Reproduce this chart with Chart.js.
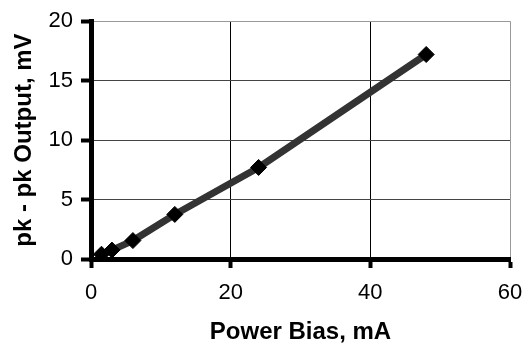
<!DOCTYPE html>
<html>
<head>
<meta charset="utf-8">
<script src="https://cdn.jsdelivr.net/npm/chart.js@4.4.0/dist/chart.umd.min.js"></script>
<style>
  html, body { margin: 0; padding: 0; background: #fff; }
  #wrap { width: 526px; height: 347px; }
</style>
</head>
<body>
<div id="wrap"><canvas id="biasChart" width="526" height="347"></canvas></div>
<script>
// values
const biasMA = [1.5, 3, 6, 12, 24, 48];
const outputMV = [0.4, 0.75, 1.55, 3.75, 7.7, 17.2];
const xTicks = [0, 20, 40, 60];
const yTicks = [0, 5, 10, 15, 20];

const points = biasMA.map((x, i) => ({ x: x, y: outputMV[i] }));
const tickFont = { family: 'Liberation Sans, Arial, sans-serif', size: 22 };
const titleFont = { family: 'Liberation Sans, Arial, sans-serif', size: 24, weight: 'bold' };

const ctx = document.getElementById('biasChart').getContext('2d');
new Chart(ctx, {
    type: 'scatter',
    data: {
        datasets: [{
            label: 'Output',
            data: points,
            showLine: true,
            borderColor: '#333333',
            borderWidth: 7,
            pointStyle: 'rectRot',
            pointRadius: 8,
            pointBackgroundColor: '#000',
            pointBorderColor: '#000',
            pointBorderWidth: 1
        }]
    },
    options: {
        responsive: false,
        animation: false,
        layout: { padding: { top: 20, right: 16, left: 0, bottom: 0 } },
        plugins: { legend: { display: false }, tooltip: { enabled: false } },
        scales: {
            x: {
                type: 'linear',
                min: 0,
                max: 60,
                afterBuildTicks: axis => { axis.ticks = xTicks.map(v => ({ value: v })); },
                afterFit: axis => { axis.height = 88; axis.paddingLeft = 0; axis.paddingRight = 0; },
                ticks: { color: '#000', font: tickFont, padding: 12, maxRotation: 0 },
                grid: {
                    color: c => c.tick && c.tick.value === 60 ? '#999' : '#000',
                    lineWidth: 1,
                    tickLength: 9,
                    tickWidth: 4,
                    tickColor: '#000'
                },
                border: { display: true, color: '#000', width: 5 },
                title: { display: true, text: 'Power Bias, mA', color: '#000', font: titleFont, padding: { top: 0, bottom: 0 } }
            },
            y: {
                min: 0,
                max: 20,
                afterBuildTicks: axis => { axis.ticks = yTicks.map(v => ({ value: v })); },
                afterFit: axis => { axis.width = 91; },
                ticks: { color: '#000', font: tickFont, padding: 8 },
                grid: {
                    color: c => c.tick && c.tick.value === 20 ? '#999' : '#444',
                    lineWidth: 1,
                    tickLength: 10,
                    tickWidth: 4,
                    tickColor: '#000'
                },
                border: { display: true, color: '#000', width: 5 },
                title: { display: true, text: 'pk - pk Output, mV', color: '#000', font: titleFont, padding: { top: 10, bottom: 0 } }
            }
        }
    }
});
</script>
</body>
</html>
